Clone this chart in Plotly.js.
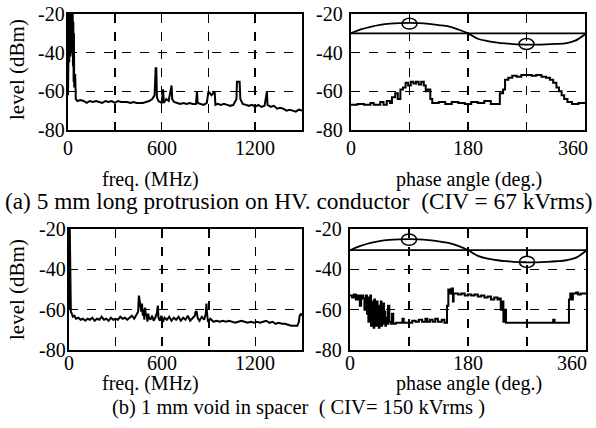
<!DOCTYPE html>
<html>
<head>
<meta charset="utf-8">
<script src="https://cdn.plot.ly/plotly-3.0.1.min.js"></script>
<style>html,body{margin:0;padding:0;background:#fff;}#chart{width:596px;height:428px;}</style>
</head>
<body>
<div id="chart"></div>
<script>
// ---- (a) spectrum ----
const freqA = [0,2,4,6,8,10,12,14,16,18,
  20,22,24,26,28,30,32,34,36,38,
  40,42,46,50,60,80,100,120,
  140,160,180,200,220,240,260,280,300,320,
  340,360,380,400,420,440,460,480,500,520,
  540,555,562,566,570,580,600,610,614,630,
  645,660,664,668,680,700,720,740,760,780,
  800,820,827,831,850,870,890,900,910,920,
  930,940,945,960,980,1000,1020,1040,1060,1080,
  1083,1100,1105,1120,1140,1160,1180,1200,1220,1240,
  1260,1275,1279,1300,1320,1340,1360,1380,1400,1420,
  1440,1460,1480,1500];
const levelA = [-62,-20,-38,-20,-45,-20,-36,-20,-42,-20,
  -35,-20,-40,-21,-34,-20,-47,-24,-55,-30,
  -58,-52,-51,-64,-65,-64.5,-65,-66,
  -65,-65.5,-65,-65.5,-66,-65,-65.5,-65,-66,-65,
  -65.5,-65.5,-65.5,-66,-65.5,-66,-66,-66,-65.5,-65,
  -64,-62,-48,-48,-63,-65,-66,-59,-66,-64,
  -65,-57,-57,-64,-65.5,-66,-66.5,-66,-66.5,-66,
  -66.5,-66.5,-60,-66,-66.5,-67,-66,-60,-61,-62,
  -61,-60,-67,-66.5,-67,-66.5,-67,-67.5,-67,-64,
  -55,-55,-64,-66.5,-67,-67.5,-67,-68,-67,-68,
  -67.5,-60,-67,-68,-67.5,-69,-68.5,-69,-70,-69.5,
  -70,-70.5,-69.5,-70];

// ---- (a) phase pattern ----
const phaseA = [0,10,20,30,35,45,50,55,60,63,
  68,72,76,80,84,88,92,96,100,104,
  108,112,115,118,122,125,135,145,155,165,
  175,185,195,205,215,225,229,234,237,242,
  248,255,262,270,278,285,293,300,306,311,
  316,320,324,328,333,340,350,360];
const pdA = [-67,-66.5,-67,-66,-67,-65.5,-67,-65,-66,-63,
  -61,-64,-59,-58,-55.5,-57,-55,-56,-55,-56.5,
  -55,-57,-60,-59,-64,-66,-65.5,-66.5,-65.5,-66,
  -66.5,-65.5,-66,-65,-66.5,-66.5,-61,-59,-54,-53,
  -52,-52.5,-51.5,-51.5,-52,-51.5,-52.5,-53,-54,-55.5,
  -58,-60,-62,-64,-65.5,-66.5,-66,-66.5];

// ---- (b) spectrum ----
const freqB = [0,2,5,8,12,18,25,35,45,60,
  75,90,105,120,135,150,165,180,195,210,
  225,240,255,270,285,300,315,330,345,360,
  375,390,405,420,435,445,450,455,460,465,
  470,475,480,485,490,495,500,505,510,515,
  525,535,545,555,565,572,576,585,595,605,
  615,630,645,660,675,690,705,720,735,750,
  765,780,795,810,815,822,828,840,855,870,
  880,885,889,895,910,930,950,970,990,1010,
  1030,1050,1070,1090,1110,1130,1150,1170,1190,1210,
  1230,1250,1270,1290,1310,1330,1350,1370,1390,1410,
  1430,1450,1470,1480,1485,1495,1500];
const levelB = [-20,-60,-20,-59,-61,-62,-63.5,-63,-64.5,-64,
  -65,-64.5,-65.5,-64.5,-65,-64,-65.5,-64.5,-65,-63.5,
  -65,-64.5,-65.5,-64,-65,-64.5,-65,-63.5,-64.5,-64,
  -65,-64,-63,-64.5,-62,-61,-53,-55,-58,-61,
  -57,-63,-60,-65,-59,-63,-62,-66,-62,-64,
  -65,-63,-65.5,-64,-62,-58,-64,-65.5,-63,-66,
  -64,-65,-63.5,-65.5,-64,-65,-63.5,-65.5,-64,-65,
  -63,-65.5,-64,-63,-61,-61,-64,-65.5,-63.5,-65,
  -62,-57,-62,-66,-64.5,-66,-65.5,-66,-65.5,-66,
  -65.5,-66,-66.5,-66,-65.5,-66,-66.5,-66,-66.5,-66,
  -66.5,-66,-65.5,-66.5,-66,-67,-66.5,-67,-67,-67.5,
  -68,-68,-68,-66,-63,-62,-63];

// ---- (b) phase pattern ----
const phaseB = [0,3,6,9,12,15,17,20,22,24,
  26,27,28,29,30,31,32,33,34,35,
  36,37,38,39,40,41,42,43,44,45,
  46,47,48,49,50,51,52,53,54,55,
  57,58,60,62,64,66,70,75,80,82,
  90,95,100,105,110,115,118,122,126,130,
  134,140,144,147,148,150,153,155,157,158,
  165,170,175,180,185,190,195,200,205,210,
  215,220,225,228,230,232,234,236,238,245,
  260,275,290,305,310,312,320,332,334,336,
  338,340,345,348,352,360];
const pdB = [-53,-54,-52.5,-55,-53,-58,-53,-54.5,-60,-53,
  -62,-54,-66,-55,-64,-53,-68,-56,-67,-58,
  -69,-55,-66,-60,-68,-56,-67,-62,-69,-58,
  -66,-56,-68,-62,-67,-57,-65,-61,-68,-64,
  -67,-58,-66,-67,-62,-67,-66.5,-66.5,-64.5,-66.5,
  -66.5,-65.5,-66,-65,-66,-64.5,-66,-65,-66,-64.5,
  -66,-65,-66.5,-66.5,-58,-50,-52,-49.5,-56,-52,
  -52.5,-52,-53,-52.5,-53,-52.5,-53.5,-53,-54,-53.5,
  -55,-54,-55,-54.5,-60,-56,-66,-60,-66.5,-66.5,
  -66.5,-66.5,-66.5,-66.5,-65,-66.5,-66.5,-66.5,-55,-52,
  -55,-52,-51.5,-52.5,-52,-52];

// ---- applied voltage reference wave (drawn on the phase plots) ----
const sinePhase = [0,15,30,45,60,75,90,105,120,135,150,165,180,195,210,225,240,255,270,285,300,315,330,345,360];
const sineA = [-30,-28,-26.6,-25.6,-25,-24.7,-24.6,-24.7,-25.1,-25.7,-26.4,-28,-30,-32.8,-34,-34.8,-35.3,-35.7,-35.8,-35.8,-35.7,-35.5,-35.2,-33.8,-30.5];
const sineB = [-30.5,-28.5,-27,-26,-25.4,-25.1,-25,-25.1,-25.5,-26.1,-26.9,-28.4,-30.5,-33.3,-34.7,-35.5,-36,-36.4,-36.5,-36.5,-36.3,-36,-35.5,-34.2,-30.8];
const zeroPhase = [0,360];
const zeroA = [-30,-30];
const zeroB = [-30.5,-30.5];
// PD occurrence marks (phase, level)
const markPhase = [90,270];
const markA = [-25,-35.5];
const markB = [-25.3,-36.3];

const freqTicks = [0,300,600,900,1200];
const freqLabels = ['0','','600','','1200'];
const phaseTicks = [0,90,180,270,360];
const phaseLabels = ['0','','180','','360'];
const levelTicks = [-80,-60,-40,-20];
const levelLabels = ['-80','-60','-40','-20'];

const captionA = '(a) 5 mm long protrusion on HV. conductor  (CIV = 67 kVrms)';
const captionB = '(b) 1 mm void in spacer  ( CIV= 150 kVrms )';

const serif = '"Liberation Serif", "Times New Roman", Times, serif';
const W = 596, H = 428;
const px = v => v / W, py = v => 1 - v / H;

const lineStyle = {color: 'black', width: 2};
function tr(x, y, xa, ya, extra) {
  return Object.assign({x: x, y: y, xaxis: xa, yaxis: ya, mode: 'lines', line: lineStyle, hoverinfo: 'skip', showlegend: false}, extra || {});
}
const traces = [
  tr(freqA, levelA, 'x', 'y'),
  tr(zeroPhase, zeroA, 'x2', 'y2', {line: {color: 'black', width: 1.8}}),
  tr(sinePhase, sineA, 'x2', 'y2', {line: {color: 'black', width: 1.8, shape: 'spline'}}),
  tr(phaseA, pdA, 'x2', 'y2', {line: {color: 'black', width: 2, shape: 'hv'}}),
  tr(freqB, levelB, 'x3', 'y3'),
  tr(zeroPhase, zeroB, 'x4', 'y4', {line: {color: 'black', width: 1.8}}),
  tr(sinePhase, sineB, 'x4', 'y4', {line: {color: 'black', width: 1.8, shape: 'spline'}}),
  tr(phaseB, pdB, 'x4', 'y4', {line: {color: 'black', width: 2, shape: 'hv'}})
];

function axis(extra) {
  return Object.assign({
    showline: true, linecolor: 'black', linewidth: 2, mirror: true,
    showgrid: true, gridcolor: 'black', gridwidth: 1.5, griddash: 'dash',
    zeroline: false, ticks: '', showticklabels: false,
    fixedrange: true
  }, extra);
}
const topY = [py(130), py(14)];
const botY = [py(350), py(229)];

const shapes = [];
function marks(levels, xref, yref) {
  markPhase.forEach((p, i) => {
    shapes.push({type: 'circle', xref: xref, yref: yref,
      x0: p - 11.5, x1: p + 11.5, y0: levels[i] - 2.8, y1: levels[i] + 2.8,
      line: {color: 'black', width: 1.5}});
  });
}
marks(markA, 'x2', 'y2');
marks(markB, 'x4', 'y4');

const tickFont = {family: serif, size: 20, color: 'black'};
const annotations = [];
// x tick labels, placed at the tick values under each plot;
// the label at the right end of the axis is kept inside the frame edge
function xLabels(vals, texts, xa, ya, shift, edgeShift) {
  const last = vals.length - 1;
  vals.forEach((v, i) => {
    if (!texts[i]) return;
    const atEnd = (i === last && edgeShift !== undefined);
    annotations.push({text: texts[i], xref: xa, yref: ya + ' domain', x: v, y: 0,
      xanchor: atEnd ? 'right' : 'center', xshift: atEnd ? edgeShift : 0,
      yanchor: 'middle', yshift: shift, showarrow: false, font: tickFont});
  });
}
// y tick labels, placed at the tick values left of each plot
function yLabels(vals, texts, xa, ya, shift) {
  vals.forEach((v, i) => {
    annotations.push({text: texts[i], xref: xa + ' domain', yref: ya, x: 0, y: v,
      xanchor: 'right', yanchor: 'middle', xshift: shift, showarrow: false, font: tickFont});
  });
}
xLabels(freqTicks, freqLabels, 'x', 'y', -18);
xLabels(phaseTicks, phaseLabels, 'x2', 'y2', -18, 5);
xLabels(freqTicks, freqLabels, 'x3', 'y3', -13);
xLabels(phaseTicks, phaseLabels, 'x4', 'y4', -13, 3);
yLabels(levelTicks, levelLabels, 'x', 'y', -1);
yLabels(levelTicks, levelLabels, 'x2', 'y2', -6);
yLabels(levelTicks, levelLabels, 'x3', 'y3', -1);
yLabels(levelTicks, levelLabels, 'x4', 'y4', -6);

function ann(text, x, y, size, extra) {
  return Object.assign({text: text, xref: 'paper', yref: 'paper', x: px(x), y: py(y),
    xanchor: 'center', yanchor: 'middle', showarrow: false,
    font: {family: serif, size: size, color: 'black'}}, extra || {});
}
annotations.push(
  ann('level (dBm)', 17, 70, 21, {textangle: -90}),
  ann('level (dBm)', 17, 290, 21, {textangle: -90}),
  ann('freq. (MHz)', 150, 179, 20),
  ann('phase angle (deg.)', 469, 179, 20),
  ann(captionA, 298, 201, 23.3),
  ann('freq. (MHz)', 150, 383, 20),
  ann('phase angle (deg.)', 469, 383, 20),
  ann(captionB, 298, 407, 20.5)
);

const layout = {
  width: W, height: H,
  margin: {l: 0, r: 0, t: 0, b: 0},
  paper_bgcolor: 'white', plot_bgcolor: 'white',
  showlegend: false,
  xaxis: axis({domain: [px(68), px(302)], range: [0, 1500], tickvals: freqTicks, anchor: 'y'}),
  yaxis: axis({domain: topY, range: [-80, -20], tickvals: levelTicks, anchor: 'x'}),
  xaxis2: axis({domain: [px(351), px(585)], range: [0, 360], tickvals: phaseTicks, anchor: 'y2'}),
  yaxis2: axis({domain: topY, range: [-80, -20], tickvals: levelTicks, anchor: 'x2'}),
  xaxis3: axis({domain: [px(69), px(302)], range: [0, 1500], tickvals: freqTicks, anchor: 'y3'}),
  yaxis3: axis({domain: botY, range: [-80, -20], tickvals: levelTicks, anchor: 'x3'}),
  xaxis4: axis({domain: [px(350), px(586)], range: [0, 360], tickvals: phaseTicks, anchor: 'y4'}),
  yaxis4: axis({domain: botY, range: [-80, -20], tickvals: levelTicks, anchor: 'x4'}),
  shapes: shapes,
  annotations: annotations
};

Plotly.newPlot('chart', traces, layout, {staticPlot: true, displayModeBar: false});
</script>
</body>
</html>
